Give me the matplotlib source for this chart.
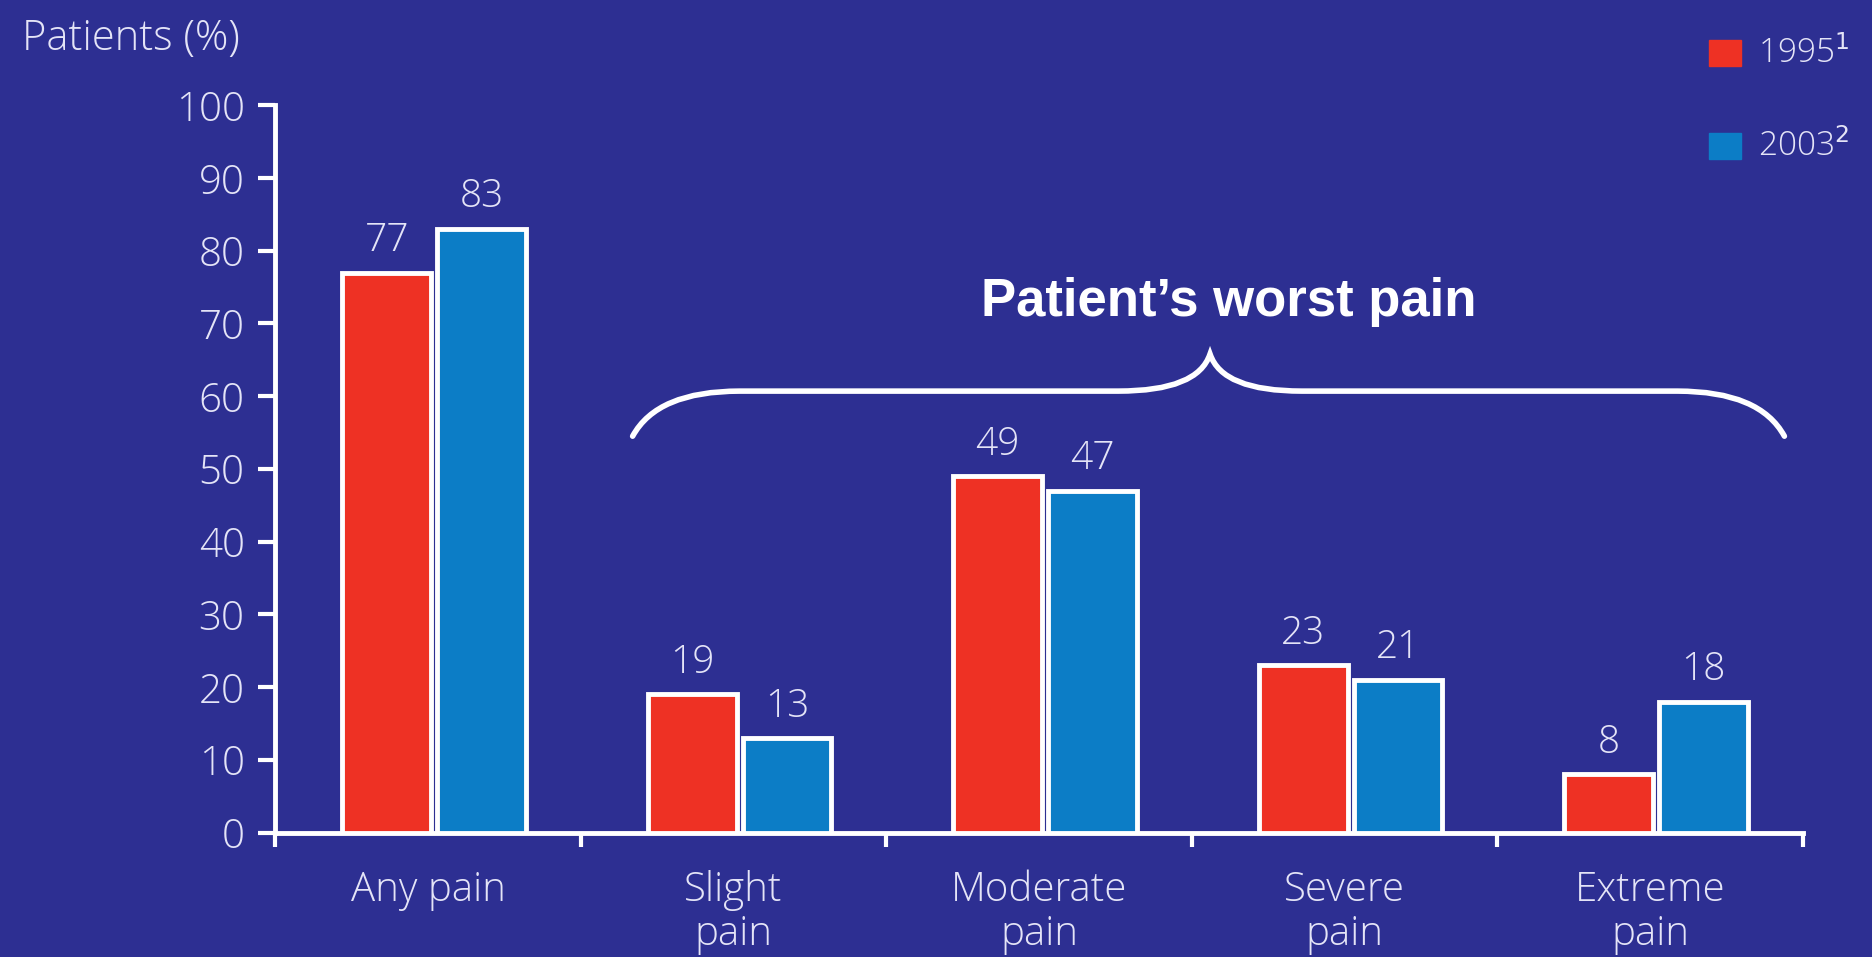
import matplotlib
matplotlib.use("Agg")
import matplotlib.pyplot as plt
from matplotlib.path import Path
from matplotlib.patches import PathPatch
import numpy as np

categories = ["Any pain", "Slight\npain", "Moderate\npain", "Severe\npain", "Extreme\npain"]
vals_1995 = [77, 19, 49, 23, 8]
vals_2003 = [83, 13, 47, 21, 18]
series_labels = ["1995$^1$", "2003$^2$"]
yticks = list(range(0, 101, 10))

bg = "#2d2f92"
red = "#ee3124"
blue = "#0c7dc6"
txt = "#e4e4f7"

plt.rcParams['font.family'] = ['Open Sans', 'Liberation Sans', 'DejaVu Sans']
lw = "light"

fig = plt.figure(figsize=(18.72, 9.57), dpi=100, facecolor=bg)
ax = fig.add_axes([0.147, 0.130, 0.816, 0.760], facecolor=bg)

x = np.arange(len(categories))
w = 0.29
off = 0.155
b1 = ax.bar(x - off + 0.02, vals_1995, w, color=red, edgecolor="white", linewidth=3.5, zorder=3)
b2 = ax.bar(x + off + 0.02, vals_2003, w, color=blue, edgecolor="white", linewidth=3.5, zorder=3)

for bars, vals in [(b1, vals_1995), (b2, vals_2003)]:
    for r, v in zip(bars, vals):
        ax.annotate(str(v), (r.get_x() + r.get_width() / 2, v), xytext=(0, 9),
                    textcoords="offset points", ha="center", va="bottom",
                    fontsize=28, color=txt, fontweight=lw)

ax.set_xlim(-0.5, 4.5)
ax.set_ylim(0, 100)
ax.set_yticks(yticks)
ax.set_yticklabels([str(t) for t in yticks], fontsize=29, color=txt, fontweight=lw)
ax.set_xticks(x)
ax.set_xticklabels(categories, fontsize=29, color=txt, linespacing=1.1, fontweight=lw)
ax.set_xticks(np.arange(-0.5, 4.6, 1.0), minor=True)
ax.tick_params(axis="x", which="major", length=0, pad=27)
ax.tick_params(axis="x", which="minor", length=10, width=3, color="white", direction="out")
ax.tick_params(axis="y", length=12, width=3, color="white", pad=10)
for s in ["top", "right"]:
    ax.spines[s].set_visible(False)
for s in ["left", "bottom"]:
    ax.spines[s].set_color("white")
    ax.spines[s].set_linewidth(3.5)

# brace over the "worst pain" categories
xl, xr, xm = 0.67, 4.44, 2.56
y0, yh, yp = 54.5, 60.7, 65.8
verts = [(xl, y0), (xl + 0.08, yh), (xl + 0.35, yh),
         (xm - 0.30, yh),
         (xm - 0.04, yh), (xm, yp),
         (xm + 0.04, yh), (xm + 0.30, yh),
         (xr - 0.35, yh),
         (xr - 0.08, yh), (xr, y0)]
codes = [Path.MOVETO, Path.CURVE3, Path.CURVE3,
         Path.LINETO,
         Path.CURVE3, Path.CURVE3,
         Path.CURVE3, Path.CURVE3,
         Path.LINETO,
         Path.CURVE3, Path.CURVE3]
ax.add_patch(PathPatch(Path(verts, codes), facecolor="none", edgecolor="white",
                       linewidth=4, capstyle="round", zorder=4))
ax.text(xm + 0.06, 73, "Patient\u2019s worst pain", ha="center", va="center",
        fontsize=38, fontweight="bold", color="white", family="Liberation Sans")

fig.text(0.012, 0.960, "Patients (%)", fontsize=30, color=txt, ha="left", va="center",
         fontweight=lw)

# legend
for i, (lab, c) in enumerate(zip(series_labels, [red, blue])):
    yy = 0.944 - i * 0.097
    fig.patches.append(plt.Rectangle((0.913, yy - 0.013), 0.017, 0.027, color=c,
                                     transform=fig.transFigure, figure=fig))
    fig.text(0.939, yy, lab, fontsize=24, color=txt, ha="left", va="center", fontweight=lw)

fig.savefig("out.png", dpi=100, facecolor=bg)
